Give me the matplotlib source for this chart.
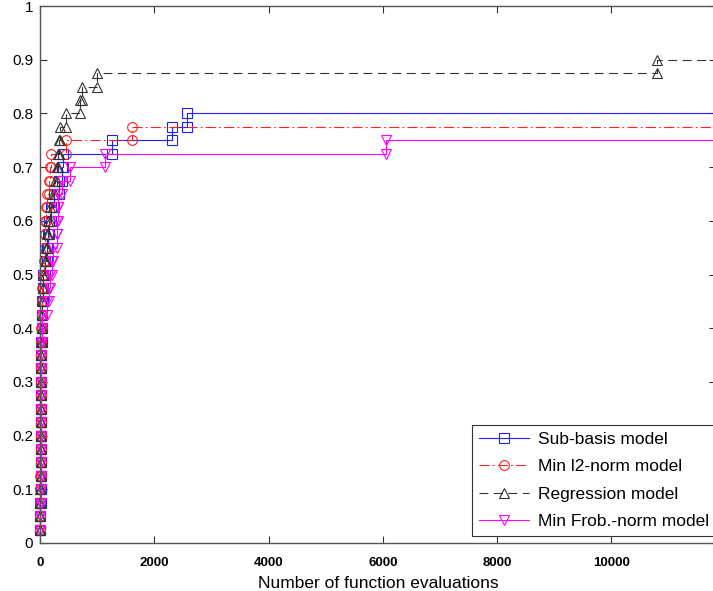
import numpy as np
import matplotlib.pyplot as plt

plt.rcParams['font.family'] = ['Liberation Sans', 'DejaVu Sans']

# fraction of problems solved: steps of 1/40
# x = number of function evaluations at which each new level is reached
sub_x = [5, 6, 8, 9, 10, 11, 12, 13, 14, 15, 17, 18, 20, 22, 24, 27,
         30, 40, 50, 60, 85, 115, 140, 150, 185, 250, 330, 380, 410,
         1254, 2316, 2567]
sub_y = [0.025 * (i + 1) for i in range(len(sub_x))]

l2_x = [4, 5, 6, 7, 8, 9, 10, 11, 12, 13, 14, 16, 18, 20, 22, 25,
        28, 32, 38, 45, 65, 80, 85, 90, 110, 128, 158, 175, 200, 455, 1604]
l2_y = [0.025 * (i + 1) for i in range(len(l2_x))]

reg_x = [5, 6, 7, 8, 9, 10, 11, 12, 13, 15, 16, 18, 20, 22, 25, 28,
         35, 40, 45, 55, 80, 100, 120, 140, 170, 220, 262, 300, 321,
         330, 350, 460, 700, 730, 1000, 10800]
reg_y = [0.025 * (i + 1) for i in range(len(reg_x))]

frob_x = [6, 7, 8, 9, 10, 11, 12, 13, 15, 16, 18, 20, 22, 24, 26, 30,
          35, 120, 160, 180, 204, 233, 292, 300, 310, 320, 380, 525,
          1137, 6055]
frob_y = [0.025 * (i + 1) for i in range(len(frob_x))]

x_max = 11830


def stair_vertices(x, y):
    xs, ys = [x[0]], [y[0]]
    for i in range(1, len(x)):
        xs += [x[i], x[i]]
        ys += [y[i - 1], y[i]]
    xs.append(x_max)
    ys.append(y[-1])
    return np.array(xs), np.array(ys)


fig = plt.figure(figsize=(7.13, 5.91), dpi=100)
ax = fig.add_axes([40 / 713, 1 - 543 / 591, 676 / 713, 537 / 591])

series = [
    (sub_x, sub_y, 'Sub-basis model', '#2020ff', None, 's'),
    (l2_x, l2_y, 'Min l2-norm model', '#ff2020', (9, 3, 1.5, 3), 'o'),
    (reg_x, reg_y, 'Regression model', '#333333', (8, 5), '^'),
    (frob_x, frob_y, 'Min Frob.-norm model', '#ff00ff', None, 'v'),
]
for x, y, name, col, dash, mk in series:
    xs, ys = stair_vertices(x, y)
    line, = ax.plot(xs, ys, color=col, linewidth=0.8, marker=mk,
                    markersize=7, markerfacecolor='none', markeredgewidth=0.8,
                    markevery=list(range(len(xs) - 1)), label=name,
                    clip_on=False)
    if dash is not None:
        line.set_dashes(dash)

ax.set_xlim(0, x_max)
ax.set_ylim(0, 1)
ax.set_xticks(np.arange(0, 10001, 2000))
ax.set_yticks(np.arange(0, 1.01, 0.1))
ax.set_yticklabels(['0', '0.1', '0.2', '0.3', '0.4', '0.5', '0.6', '0.7',
                    '0.8', '0.9', '1'])
ax.tick_params(direction='in', top=True, right=True, length=5, width=0.8,
               color='#333333')
ax.tick_params(axis='y', labelsize=11, pad=5)
ax.tick_params(axis='x', labelsize=9.5, pad=10)
for lab in ax.get_xticklabels():
    lab.set_fontweight('bold')
for sp in ax.spines.values():
    sp.set_color('#555555')
    sp.set_linewidth(1.0)

ax.set_xlabel('Number of function evaluations', fontsize=12.5, labelpad=5)

leg = ax.legend(loc='lower right', bbox_to_anchor=(1.0, 0.013), fontsize=12.5,
                fancybox=False, framealpha=1, edgecolor='#333333',
                handlelength=2.9, borderaxespad=0, borderpad=0.4,
                labelspacing=0.7, handletextpad=0.5)
leg.get_frame().set_linewidth(0.8)

fig.savefig('out.png', dpi=100)
